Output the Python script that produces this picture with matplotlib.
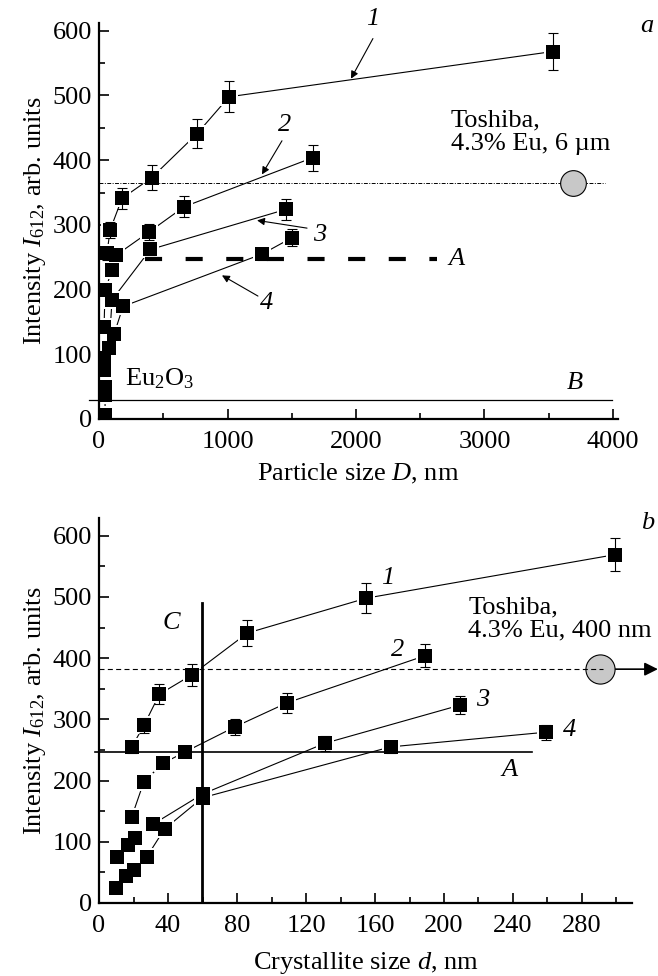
import numpy as np
import matplotlib
matplotlib.use("Agg")
import matplotlib.pyplot as plt
from matplotlib.ticker import MultipleLocator

plt.rcParams["font.family"] = ["Liberation Serif", "DejaVu Serif"]
plt.rcParams["mathtext.fontset"] = "custom"
plt.rcParams["mathtext.rm"] = "Liberation Serif"
plt.rcParams["mathtext.it"] = "Liberation Serif:italic"
FS = 19
plt.rcParams["font.size"] = FS

# panel a: intensity vs particle size D (nm)
a_D1 = [62, 86, 179, 410, 763, 1012, 3533]
a_I1 = [256, 292, 341, 373, 441, 498, 568]
a_e1 = [10, 13, 16, 19, 22, 24, 28]
a_D2 = [39, 47, 101, 132, 389, 662, 1665]
a_I2 = [142, 199, 230, 253, 289, 328, 404]
a_e2 = [0, 0, 0, 0, 13, 16, 20]
a_D3 = [39, 39, 78, 101, 400, 1455]
a_I3 = [76, 94, 109, 184, 262, 324]
a_e3 = [0, 0, 0, 0, 8, 16]
a_D4 = [47, 47, 47, 117, 187, 1270, 1500]
a_I4 = [6, 37, 50, 131, 174, 255, 280]
a_e4 = [0, 0, 0, 0, 0, 10, 13]

# panel b: intensity vs crystallite size d (nm)
b_d1 = [19, 26, 35, 54, 86, 155, 299]
b_I1 = [255, 290, 341, 373, 441, 498, 569]
b_e1 = [10, 13, 16, 18, 21, 24, 27]
b_d2 = [19, 26, 37, 50, 79, 109, 189]
b_I2 = [141, 198, 228, 247, 288, 327, 404]
b_e2 = [0, 0, 0, 8, 13, 16, 19]
b_d3 = [10.6, 17, 21, 31.5, 60, 131, 209]
b_I3 = [75, 95, 106, 129, 178, 261, 323]
b_e3 = [0, 0, 0, 0, 0, 12, 15]
b_d4 = [10, 15.7, 20, 27.6, 38, 60, 169, 259]
b_I4 = [24, 44, 54, 75, 121, 172, 255, 279]
b_e4 = [0, 0, 0, 0, 0, 0, 10, 12]

level_A_a = 248
level_B_a = 29
toshiba_a = (3689, 364)
level_A_b = 247
line_C_b = 59.5
toshiba_b = (290.5, 382)


def series(ax, x, y, err):
	ax.plot(x, y, "-", color="k", lw=0.8, zorder=1)
	ax.plot(x, y, "s", ms=13.5, color="white", mew=0, zorder=2)
	err = np.array(err, dtype=float)
	m = err > 0
	ax.errorbar(np.array(x)[m], np.array(y)[m], yerr=err[m], fmt="none", ecolor="k",
		elinewidth=0.8, capsize=3.5, capthick=0.8, zorder=3)
	ax.plot(x, y, "s", ms=9.5, color="k", mew=0, zorder=4)


def style(ax):
	for s in ["top", "right"]:
		ax.spines[s].set_visible(False)
	for s in ["left", "bottom"]:
		ax.spines[s].set_linewidth(1.6)
	ax.tick_params(which="major", direction="in", length=7, width=1.2, labelsize=FS, pad=5)
	ax.tick_params(which="minor", direction="in", length=4.5, width=1.2)
	ax.tick_params(axis="x", which="major", pad=9)


def lbl(ax, x, y, s, **kw):
	ax.text(x, y, s, style="italic", ha="center", va="center", fontsize=FS, **kw)


fig = plt.figure(figsize=(6.58, 9.76), dpi=100)

# ---- panel a
ax = fig.add_axes([0.1505, 0.5707, 0.7888, 0.4057])
for x, y, e in [(a_D1, a_I1, a_e1), (a_D2, a_I2, a_e2), (a_D3, a_I3, a_e3), (a_D4, a_I4, a_e4)]:
	series(ax, x, y, e)
ax.plot([360, 2630], [level_A_a] * 2, color="k", lw=3, dashes=(4.1, 5.65), zorder=2.5)
ax.plot([-80, 3990], [level_B_a] * 2, color="k", lw=0.9, zorder=2.5, clip_on=False)
ax.plot([0, 3940], [toshiba_a[1]] * 2, color="k", lw=0.7, ls=(0, (4, 1.5, 1, 1.5)), zorder=2.5)
ax.plot([toshiba_a[0]], [toshiba_a[1]], "o", ms=18.5, mfc="#c8c8c8", mec="k", mew=0.8, zorder=5)
ax.set_xlim(0, 4040)
ax.set_ylim(0, 612)
ax.xaxis.set_major_locator(MultipleLocator(1000))
ax.xaxis.set_minor_locator(MultipleLocator(500))
ax.yaxis.set_major_locator(MultipleLocator(100))
ax.yaxis.set_minor_locator(MultipleLocator(50))
style(ax)
ax.set_xlabel("Particle size $D$, nm", fontsize=FS, labelpad=6)
ax.set_ylabel("Intensity $I_{612}$, arb. units", fontsize=FS, labelpad=3)
arr = dict(arrowstyle="-|>", lw=0.8, color="k", mutation_scale=11, shrinkA=0, shrinkB=0)
ax.annotate("", xy=(1961, 526), xytext=(2132, 588), arrowprops=arr, annotation_clip=False)
lbl(ax, 2132, 619, "1", clip_on=False)
ax.annotate("", xy=(1268, 378), xytext=(1424, 430), arrowprops=arr)
lbl(ax, 1447, 454, "2")
ax.annotate("", xy=(1230, 307), xytext=(1619, 295), arrowprops=arr)
lbl(ax, 1720, 284, "3")
ax.annotate("", xy=(957, 222), xytext=(1237, 190), arrowprops=arr)
lbl(ax, 1307, 179, "4")
lbl(ax, 2786, 248, "A")
lbl(ax, 3704, 55, "B")
ax.text(200, 63, "Eu$_2$O$_3$", ha="left", va="center", fontsize=FS)
ax.text(2740, 443, "Toshiba,\n4.3% Eu, 6 \u00b5m", ha="left", va="center", fontsize=FS, linespacing=1.1)
lbl(ax, 4265, 608, "a", clip_on=False)

# ---- panel b
bx = fig.add_axes([0.1505, 0.0748, 0.8100, 0.3945])
for x, y, e in [(b_d1, b_I1, b_e1), (b_d2, b_I2, b_e2), (b_d3, b_I3, b_e3), (b_d4, b_I4, b_e4)]:
	series(bx, x, y, e)
bx.plot([-2.5, 251], [level_A_b] * 2, color="k", lw=1.2, zorder=2.5, clip_on=False)
bx.plot([line_C_b] * 2, [0, 490], color="k", lw=2, zorder=2.5)
bx.plot([0, 292], [toshiba_b[1]] * 2, color="k", lw=0.8, ls=(0, (4.5, 3)), zorder=6)
bx.plot([toshiba_b[0]], [toshiba_b[1]], "o", ms=21, mfc="#c8c8c8", mec="k", mew=0.8, zorder=5)
bx.annotate("", xy=(324, 382), xytext=(299, 382), annotation_clip=False,
	arrowprops=dict(arrowstyle="-|>", lw=1.2, color="k", mutation_scale=20, shrinkA=0, shrinkB=0))
bx.set_xlim(0, 309)
bx.set_ylim(0, 629)
bx.xaxis.set_major_locator(MultipleLocator(40))
bx.xaxis.set_minor_locator(MultipleLocator(20))
bx.yaxis.set_major_locator(MultipleLocator(100))
bx.yaxis.set_minor_locator(MultipleLocator(50))
style(bx)
bx.set_xlabel("Crystallite size $d$, nm", fontsize=FS, labelpad=9)
bx.set_ylabel("Intensity $I_{612}$, arb. units", fontsize=FS, labelpad=3)
lbl(bx, 167.5, 531, "1")
lbl(bx, 173, 413, "2")
lbl(bx, 222.6, 332, "3")
lbl(bx, 273, 283, "4")
lbl(bx, 238, 217, "A")
lbl(bx, 42, 457, "C")
bx.text(214, 464, "Toshiba,\n4.3% Eu, 400 nm", ha="left", va="center", fontsize=FS, linespacing=1.1)
lbl(bx, 318, 621, "b", clip_on=False)

fig.savefig("out.png", dpi=100)
